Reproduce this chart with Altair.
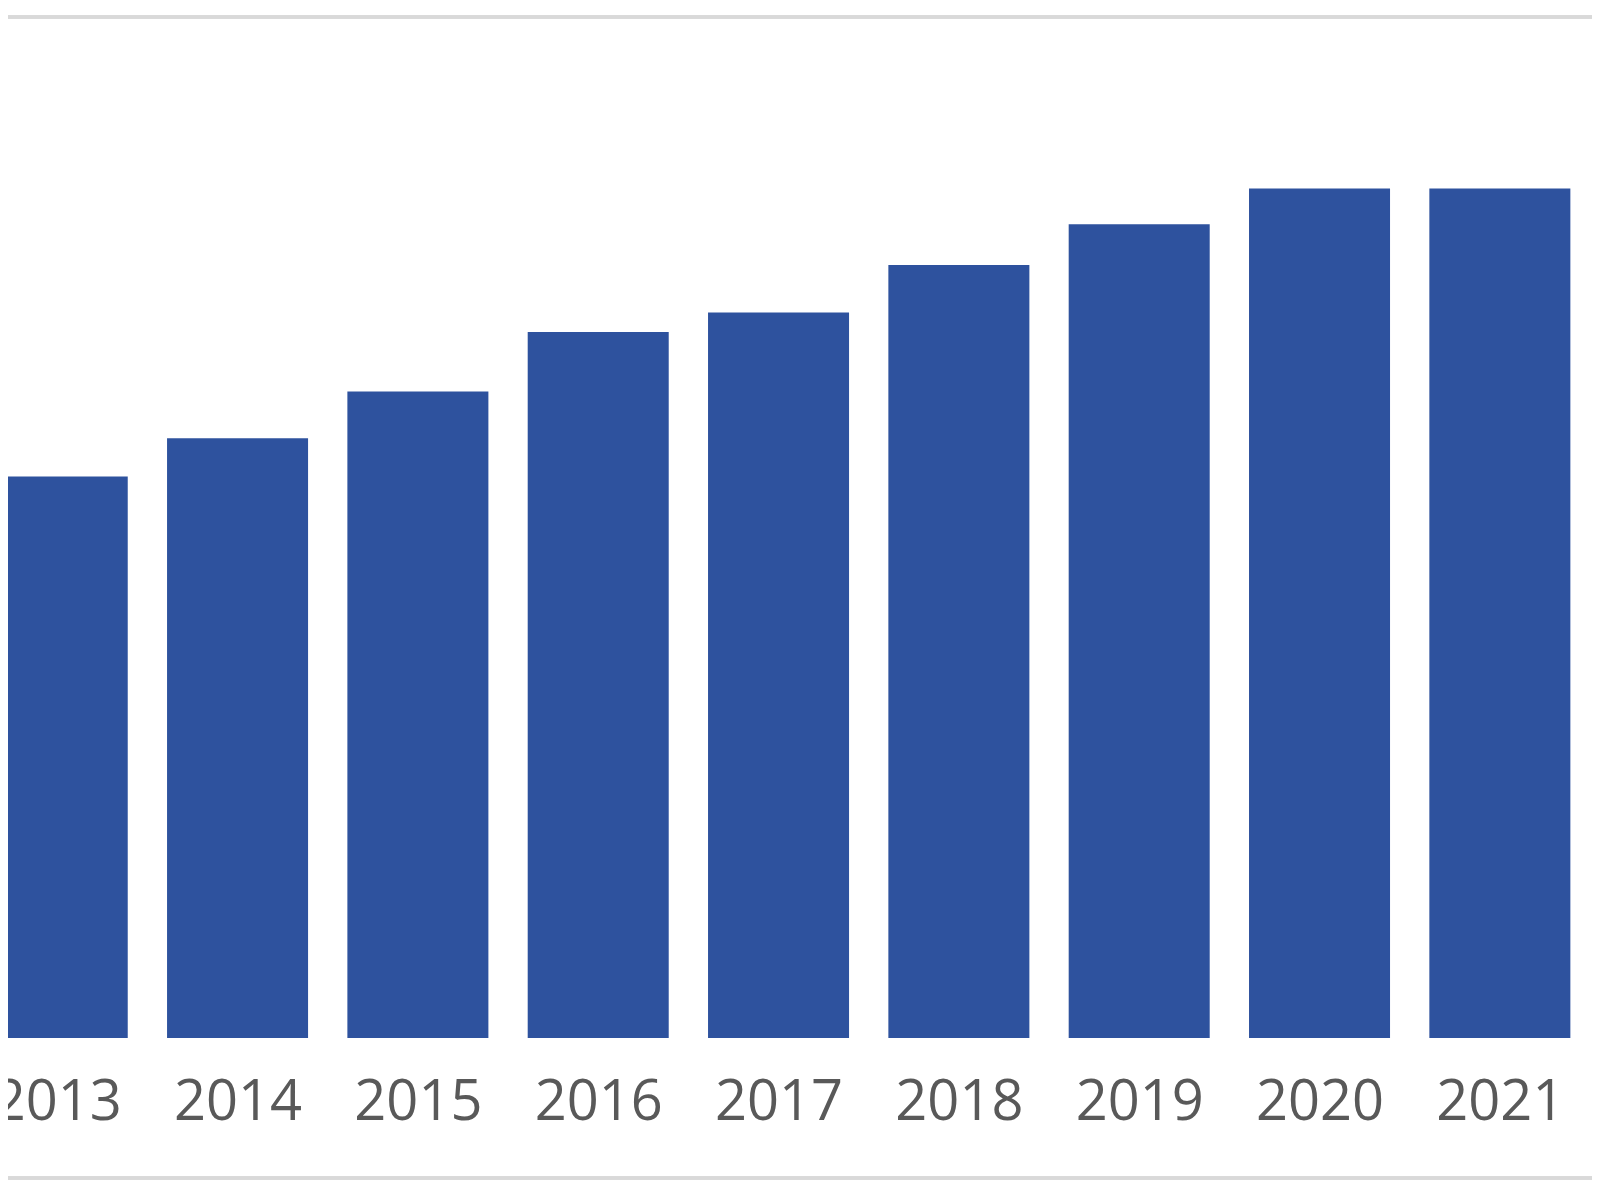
import altair as alt
import pandas as pd

# Data (index-like heights; 2020 = 100)
years = [2013, 2014, 2015, 2016, 2017, 2018, 2019, 2020, 2021]
values = [66.1, 70.6, 76.1, 83.1, 85.4, 91.0, 95.8, 100.0, 100.0]

df = pd.DataFrame({"year": years, "value": values})

HALF = 0.391  # half bar width in year units
W, H = 1584, 1021
BAR_COLOR = "#2E529E"
LINE_COLOR = "#D9D9D9"

xscale = alt.Scale(domain=[2012.727, 2021.511], nice=False, zero=False)
yscale = alt.Scale(domain=[0, 120.19], nice=False, zero=True)

bars = (
    alt.Chart(df)
    .transform_calculate(x0=f"datum.year - {HALF}", x1=f"datum.year + {HALF}")
    .mark_bar(color=BAR_COLOR, clip=True)
    .encode(
        x=alt.X(
            "x0:Q",
            scale=xscale,
            axis=alt.Axis(
                values=years,
                format="d",
                title=None,
                domain=False,
                ticks=False,
                tickSize=0,
                grid=False,
                labelFont="Open Sans",
                labelFontSize=56,
                labelColor="#595959",
                labelBaseline="alphabetic",
                labelPadding=81,
                labelFlush=False,
                labelOverlap=False,
            ),
        ),
        x2="x1:Q",
        y=alt.Y("value:Q", scale=yscale, axis=None),
        y2=alt.datum(0),
    )
)

top_line = alt.Chart(df).mark_rule(color=LINE_COLOR, strokeWidth=3).encode(
    x=alt.value(0), x2=alt.value(W), y=alt.value(0)
)
bottom_line = alt.Chart(df).mark_rule(color=LINE_COLOR, strokeWidth=3).encode(
    x=alt.value(0), x2=alt.value(W), y=alt.value(1161)
)

chart = (
    alt.layer(top_line, bottom_line, bars)
    .properties(
        width=W,
        height=H,
        autosize=alt.AutoSizeParams(type="none"),
        padding={"left": 0, "right": 0, "top": 9, "bottom": 146},
        background="white",
    )
    .configure_view(strokeWidth=0)
)

chart.save("out.html", embed_options={"renderer": "svg", "actions": False})
